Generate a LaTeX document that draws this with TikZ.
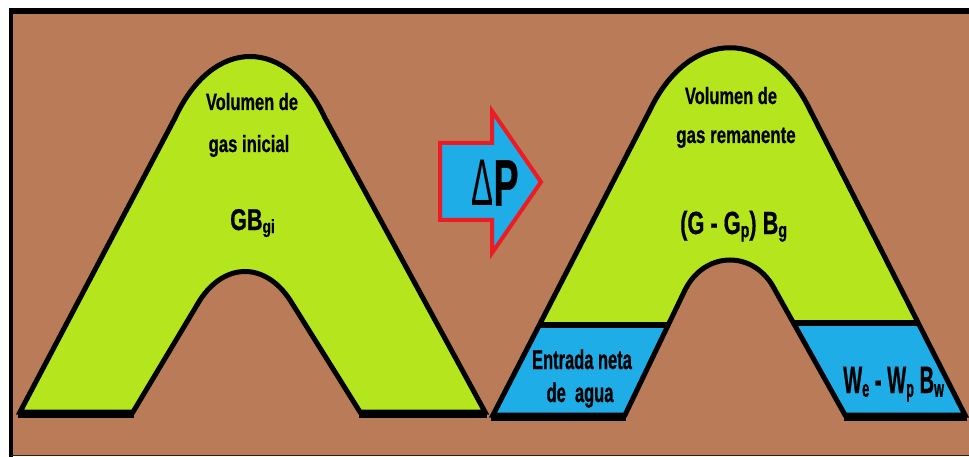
\documentclass[tikz,border=0pt]{standalone}
\usepackage{fontspec}
\setmainfont{Liberation Sans}[BoldFeatures={FakeBold=0.8}]
\usepackage{graphicx}

\definecolor{earth}{RGB}{186,124,88}
\definecolor{gaslime}{RGB}{181,230,29}
\definecolor{water}{RGB}{30,173,230}
\definecolor{arrowred}{RGB}{237,28,36}

% condensed bold lettering
\newcommand{\narrowtext}[2]{\scalebox{#1}[1]{#2}}
% small lowered index letters
\newcommand{\idx}[2]{\raisebox{-0.1em}{\fontsize{#1}{#1}\selectfont #2}}

\tikzset{
  lbl/.style={inner sep=0pt, anchor=base, font=\bfseries},
  archline/.style={draw=black, line width=5pt, line join=miter},
  baseline/.style={draw=black, line width=8pt, line cap=butt},
}

\begin{document}
\begin{tikzpicture}[x=1pt,y=-1pt]
  \useasboundingbox (0,0) rectangle (969,457);

  % frame and ground
  \fill[white] (0,0) rectangle (969,457);
  \fill[earth] (11,12) rectangle (969,456);
  \draw[black, line width=6pt] (9,11) -- (969,11);
  \draw[black, line width=3.5pt] (10.8,8) -- (10.8,457);
  \draw[black!75!earth, line width=1.2pt] (11,455.6) -- (969,455.6);

  % initial gas layer
  \path[save path=\leftarchpath]
    (20,412) -- (175,118) .. controls (213,36) and (287,36) .. (325,118)
    -- (485,412) -- (360,412) -- (290,300)
    .. controls (265,262) and (225,262) .. (200,300) -- (133,412) -- cycle;
  \fill[gaslime, use path=\leftarchpath];
  \draw[archline, use path=\leftarchpath];
  \draw[baseline] (18,413.5) -- (134,413.5);
  \draw[baseline] (359,413.5) -- (487,413.5);

  % remaining gas layer with water influx at both flanks
  \path[save path=\rightarchpath]
    (493,415) -- (650,110) .. controls (690,27) and (770,27) .. (810,110)
    -- (965,415) -- (845,415) -- (775,290)
    .. controls (755,250) and (705,250) .. (685,290) -- (625,415) -- cycle;
  \fill[gaslime, use path=\rightarchpath];
  \begin{scope}
    \clip[use path=\rightarchpath];
    \fill[water] (480,325) rectangle (729,430);
    \fill[water] (729,323) rectangle (975,430);
    \draw[black, line width=6.5pt] (480,325) -- (729,325);
    \draw[black, line width=6.5pt] (729,323) -- (975,323);
  \end{scope}
  \draw[archline, use path=\rightarchpath];
  \draw[baseline] (491,416.5) -- (626,416.5);
  \draw[baseline] (844,416.5) -- (967,416.5);

  % pressure drop arrow
  \draw[arrowred, fill=water, line width=4pt, line join=miter]
    (440,143) -- (492,143) -- (492,111) -- (541,182) -- (492,253)
    -- (492,220) -- (440,220) -- cycle;
  \node[inner sep=0pt] (dp) at (495,183)
    {\scalebox{0.5}[1]{\fontsize{66}{66}\selectfont\mdseries Δ}\scalebox{0.57}[1]{\fontsize{66}{66}\selectfont\bfseries P}};

  % labels, left
  \node[lbl, font=\bfseries\fontsize{23.5}{26}\selectfont] (l1) at (252,110)
    {\narrowtext{0.70}{Volumen de}};
  \node[lbl, font=\bfseries\fontsize{23.5}{26}\selectfont] (l2) at (249,152)
    {\narrowtext{0.71}{gas inicial}};
  \node[lbl, anchor=base west, font=\bfseries\fontsize{30}{32}\selectfont] (gb) at (230,230)
    {\narrowtext{0.72}{GB\idx{19}{gi}}};

  % labels, right
  \node[lbl, font=\bfseries\fontsize{23.5}{26}\selectfont] (r1) at (731,104)
    {\narrowtext{0.70}{Volumen de}};
  \node[lbl, font=\bfseries\fontsize{23.5}{26}\selectfont] (r2) at (736,143)
    {\narrowtext{0.72}{gas remanente}};
  \node[lbl, anchor=base west, font=\bfseries\fontsize{32}{34}\selectfont] (ggb) at (680,234)
    {\narrowtext{0.68}{(G - G\idx{21}{p}) B\idx{21}{g}}};

  % water influx labels
  \node[lbl, font=\bfseries\fontsize{27}{29}\selectfont] (w1) at (582,369)
    {\narrowtext{0.61}{Entrada neta}};
  \node[lbl, font=\bfseries\fontsize{27}{29}\selectfont] (w2) at (580,402)
    {\narrowtext{0.61}{de\ \ agua}};
  \node[lbl, anchor=base west, font=\bfseries\fontsize{38}{40}\selectfont] (we) at (843,393)
    {\narrowtext{0.53}{W\idx{24}{e} - W\idx{24}{p} B\idx{24}{w}}};
\end{tikzpicture}
\end{document}
